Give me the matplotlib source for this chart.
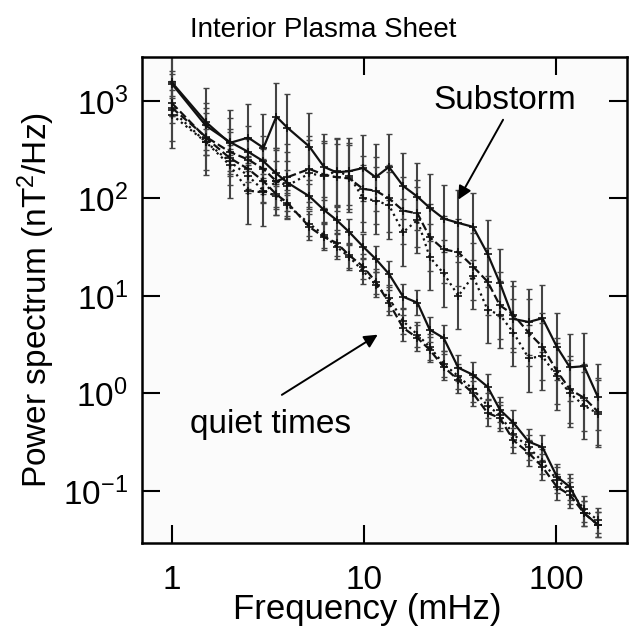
import matplotlib
matplotlib.use("Agg")
import matplotlib.pyplot as plt

plt.rcParams['font.family'] = ['Liberation Sans', 'DejaVu Sans']

# Частоты (мГц)
freq = [1.0, 1.5, 2.0, 2.5, 3.0, 3.5, 4.0, 5.2, 6.2, 7.2, 8.4, 9.9, 11.5, 13.5, 16.0,
        19.0, 22.0, 26.0, 31.0, 37.0, 44.0, 51.0, 60.0, 72.0, 85.0, 101.0, 118.0, 140.0, 165.0]

# Substorm
sub_solid = [1550, 610, 370, 420, 330, 690, 530, 340, 210, 185, 190, 205, 165, 210, 134,
             104, 80, 62, 56, 51, 27, 13.6, 5.8, 5.4, 5.9, 3.0, 1.85, 1.9, 0.92]
sub_dashed = [850, 430, 300, 250, 200, 150, 165, 200, 175, 165, 160, 125, 120, 100, 75,
              70, 40, 30, 28, 20, 14, 8.0, 6.4, 4.2, 3.0, 1.7, 1.1, 0.9, 0.65]
sub_dotted = [720, 380, 220, 120, 115, 150, 135, 180, 170, 190, 170, 100, 95, 85, 45,
              60, 25, 17, 10, 16, 7.2, 6.4, 4.2, 2.3, 2.4, 1.5, 1.0, 0.75, 0.62]

# quiet times
quiet_solid = [1500, 560, 380, 300, 240, 180, 145, 105, 76, 60, 45, 32, 24, 16.8, 9.8,
               8.5, 4.5, 3.7, 1.83, 1.55, 1.17, 0.68, 0.50, 0.32, 0.28, 0.14, 0.11, 0.059, 0.045]
quiet_dashed = [950, 420, 260, 200, 150, 110, 90, 51, 40, 35, 26, 20, 14, 8.5, 4.7,
                3.7, 2.8, 1.87, 1.37, 1.0, 0.63, 0.56, 0.33, 0.245, 0.176, 0.11, 0.091, 0.059, 0.045]
quiet_dotted = [800, 380, 240, 170, 120, 105, 85, 55, 42, 32, 25, 18, 13, 9.5, 5.5,
                4.0, 3.0, 2.0, 1.5, 1.1, 0.75, 0.60, 0.38, 0.28, 0.20, 0.13, 0.10, 0.065, 0.05]

# множитель ошибок
sub_err = 2.2
quiet_err = 1.35

x_ticks = [1, 10, 100]
x_tick_labels = ['1', '10', '100']
y_ticks = [0.1, 1, 10, 100, 1000]
y_tick_labels = ['$\\mathregular{10^{-1}}$', '$\\mathregular{10^{0}}$', '$\\mathregular{10^{1}}$',
                 '$\\mathregular{10^{2}}$', '$\\mathregular{10^{3}}$']


def draw_series(ax, values, err, style):
    lower = [v - v / err for v in values]
    upper = [v * err - v for v in values]
    ax.errorbar(freq, values, yerr=[lower, upper], fmt='none', ecolor='#444444',
                elinewidth=1.5, capsize=2.5, capthick=1.0, zorder=2)
    ax.plot(freq, values, linestyle=style, color='#111111', lw=1.6,
            marker='+', markersize=6, markeredgewidth=1.2, zorder=3)


def main():
    fig = plt.figure(figsize=(6.33, 6.32), dpi=100)
    ax = fig.add_axes([0.224, 0.141, 0.7665, 0.769])
    ax.set_facecolor('#fbfbfb')

    for values, style in [(sub_solid, '-'), (sub_dashed, '--'), (sub_dotted, ':')]:
        draw_series(ax, values, sub_err, style)
    for values, style in [(quiet_solid, '-'), (quiet_dashed, '--'), (quiet_dotted, ':')]:
        draw_series(ax, values, quiet_err, style)

    ax.set_xscale('log')
    ax.set_yscale('log')
    ax.set_xlim(0.698, 234)
    ax.set_ylim(0.0293, 2825)

    ax.set_xticks(x_ticks)
    ax.set_xticklabels(x_tick_labels)
    ax.set_yticks(y_ticks)
    ax.set_yticklabels(y_tick_labels)
    ax.minorticks_off()
    ax.tick_params(direction='in', length=13, width=1.5, labelsize=24, pad=10,
                   top=True, right=True)
    ax.tick_params(axis='x', pad=16)
    for s in ax.spines.values():
        s.set_linewidth(1.8)

    ax.set_xlabel('Frequency (mHz)', fontsize=25)
    ax.xaxis.set_label_coords(0.465, -0.138, transform=ax.transAxes)
    ax.xaxis.label.set_va('center')
    ax.set_ylabel('Power spectrum (nT$\\mathregular{^2}$/Hz)', fontsize=24, labelpad=4)
    fig.text(0.51, 0.952, 'Interior Plasma Sheet', fontsize=20, ha='center', va='center')

    # подписи со стрелками
    ax.text(54, 1000, 'Substorm', fontsize=24, ha='center', va='center')
    ax.annotate('', xy=(31, 97), xytext=(53, 640),
                arrowprops=dict(arrowstyle='-|>', color='black', lw=1.4,
                                shrinkA=0, shrinkB=0, mutation_scale=20))
    ax.text(3.28, 0.475, 'quiet times', fontsize=24, ha='center', va='center')
    ax.annotate('', xy=(11.8, 4.0), xytext=(3.74, 0.966),
                arrowprops=dict(arrowstyle='-|>', color='black', lw=1.4,
                                shrinkA=0, shrinkB=0, mutation_scale=20))

    fig.savefig('out.png', dpi=100)


if __name__ == "__main__":
    main()
